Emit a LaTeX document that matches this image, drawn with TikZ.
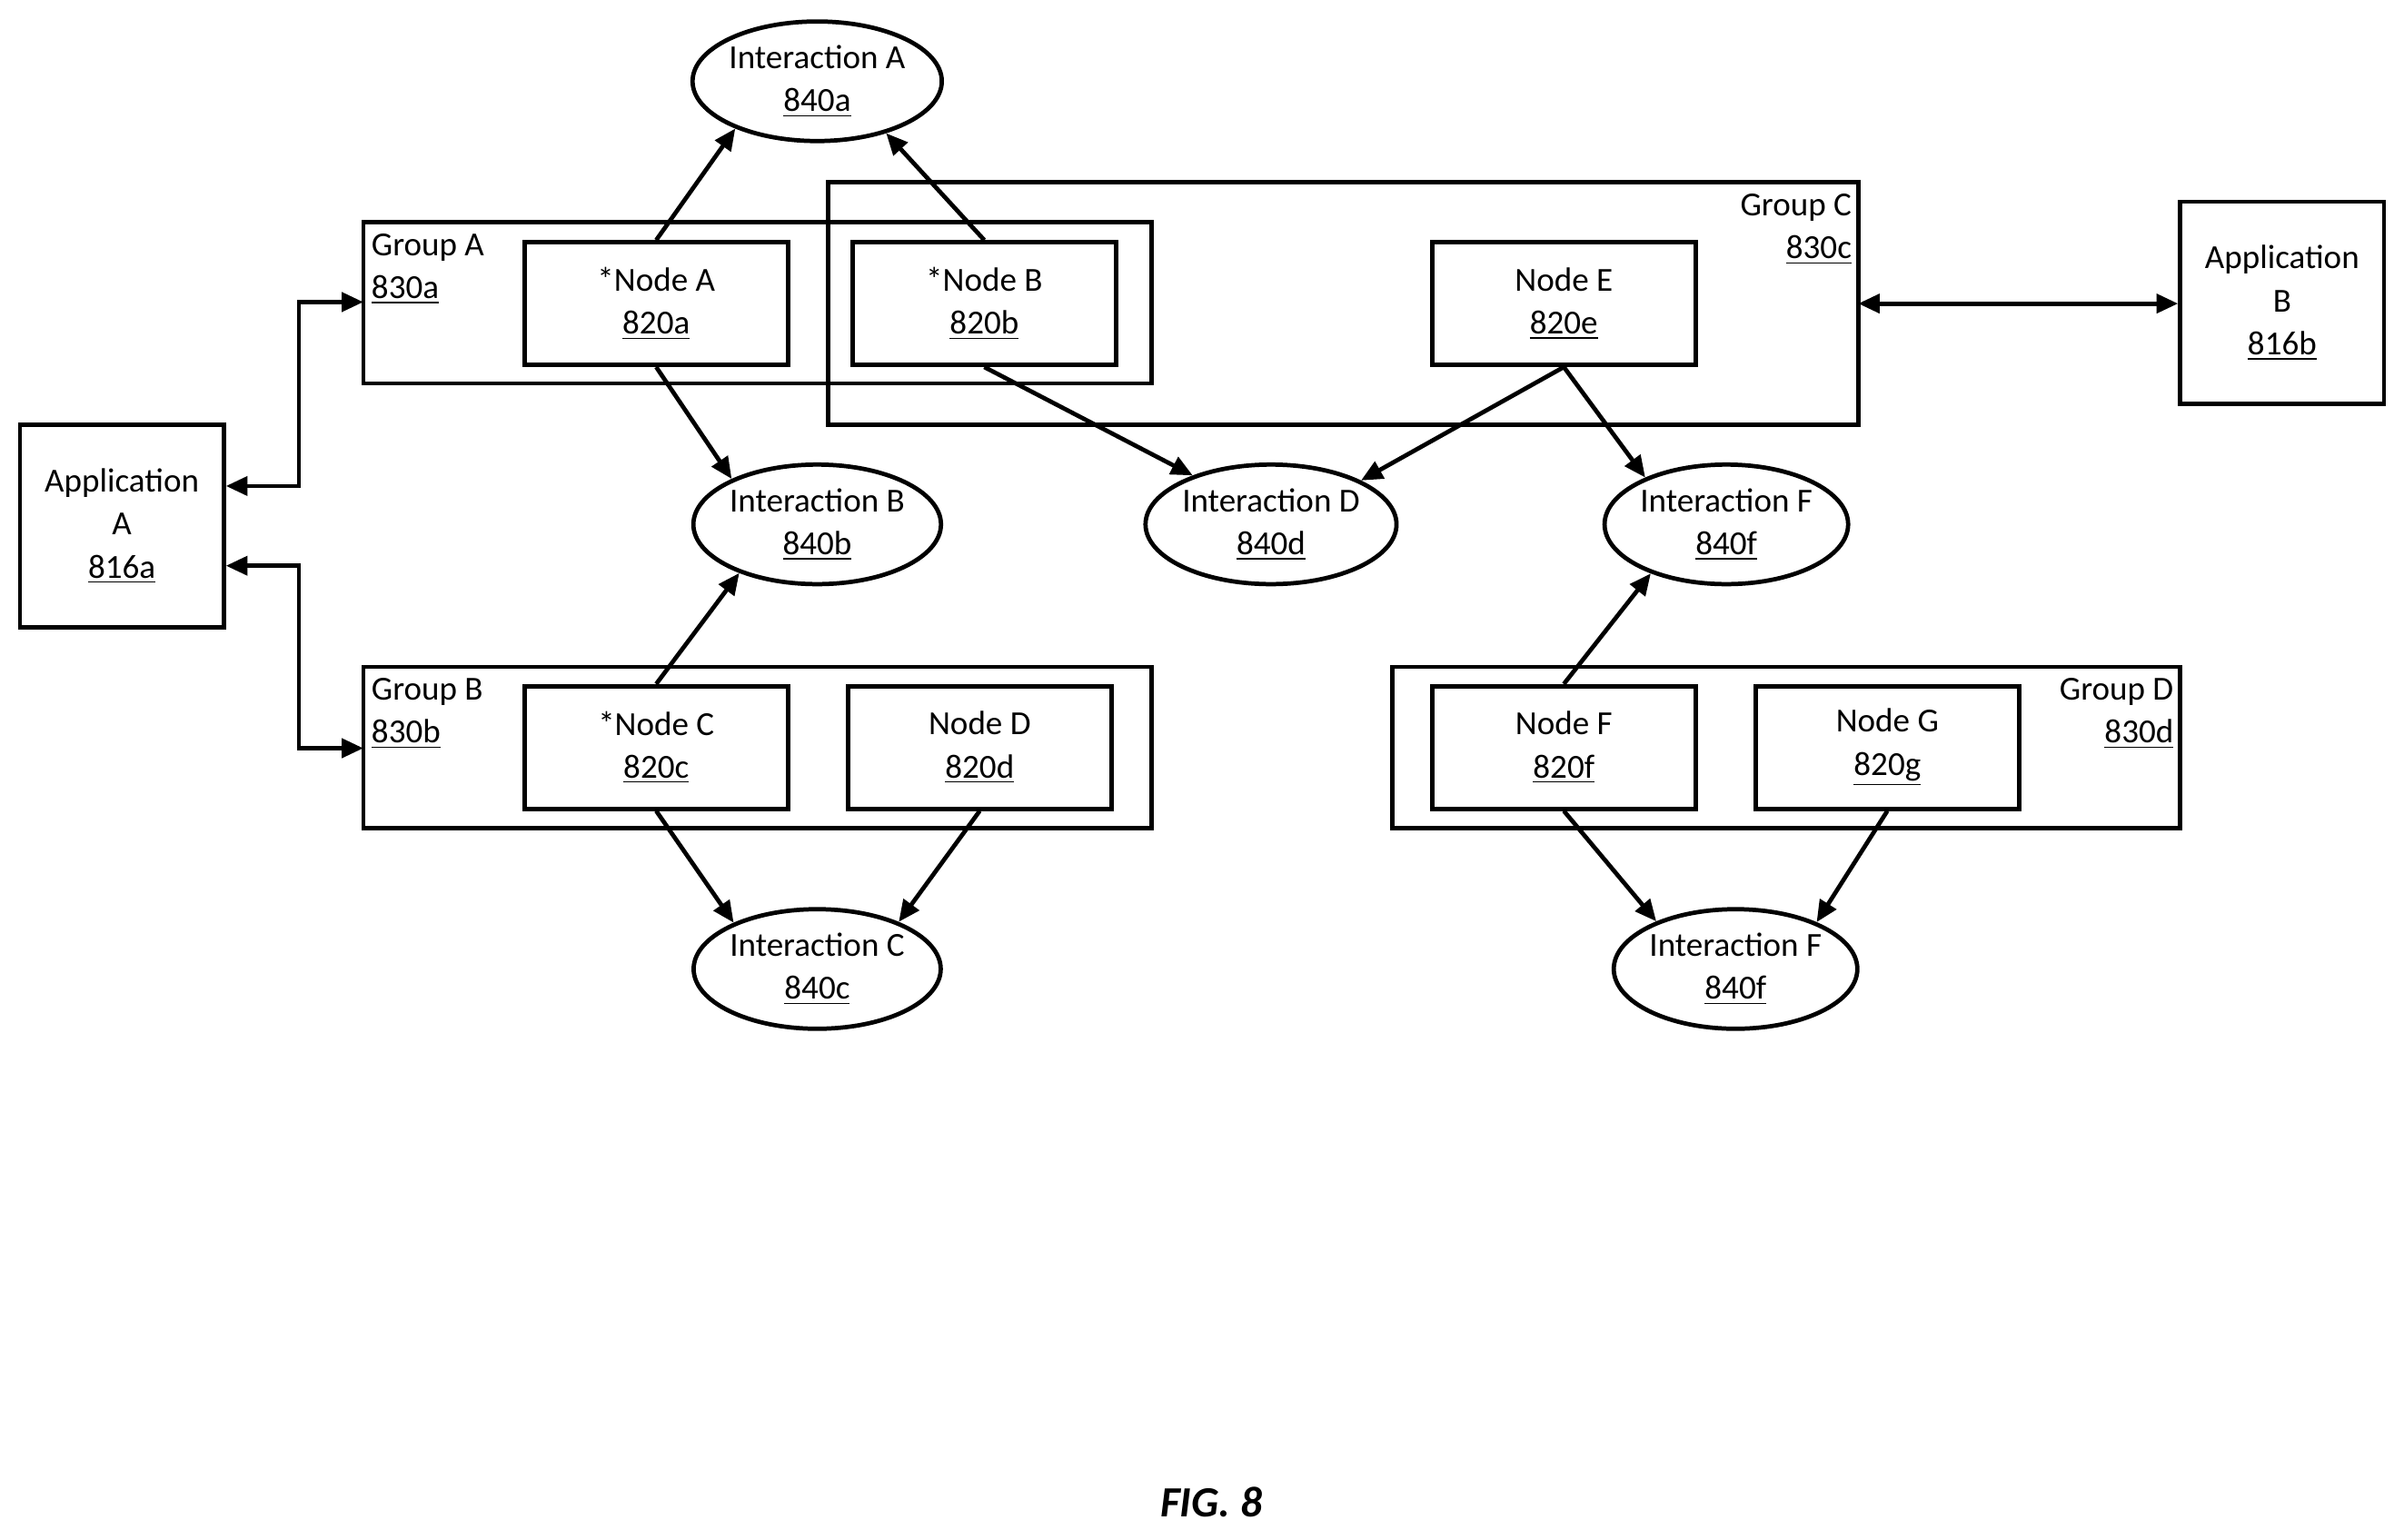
\documentclass[tikz,border=0pt]{standalone}
\usepackage{fontspec}
\setmainfont{Carlito}
\usetikzlibrary{arrows.meta,shapes.geometric}
\begin{document}
\begin{tikzpicture}[x=0.02cm,y=-0.02cm,
  every node/.style={font=\fontsize{12.5}{16}\selectfont},
  box/.style={draw,line width=1.6pt,align=center,inner sep=0pt},
  nd/.style={box,minimum width=3.44cm,minimum height=1.6cm},
  app/.style={box,minimum width=2.66cm,minimum height=2.64cm},
  ell/.style={draw,line width=1.6pt,ellipse,align=center,minimum width=3.16cm,minimum height=1.56cm,inner sep=0pt},
  grp/.style={draw,line width=1.6pt},
  lbl/.style={align=left,inner sep=0pt},
  arr/.style={line width=1.6pt,-{Triangle[length=8pt,width=7pt]}},
  darr/.style={line width=1.6pt,{Triangle[length=8pt,width=7pt]}-{Triangle[length=8pt,width=7pt]}}]
\useasboundingbox (0,0) rectangle (1568,1004);
% groups
\draw[grp] (237,145) rectangle (751,250);
\draw[grp] (540,119) rectangle (1212,277);
\draw[grp] (237,435) rectangle (751,540);
\draw[grp] (908,435) rectangle (1422,540);
\node[lbl,anchor=north west] (ga) at (242,152) {Group A\\\underline{830a}};
\node[lbl,anchor=north west] (gb) at (242,442) {Group B\\\underline{830b}};
\node[lbl,anchor=north east,align=right] (gc) at (1208,126) {Group C\\\underline{830c}};
\node[lbl,anchor=north east,align=right] (gd) at (1418,442) {Group D\\\underline{830d}};
\coordinate (gaw) at (237,197);
\coordinate (gbw) at (237,488);
\coordinate (gce) at (1212,198);
% apps
\node[app] (aa) at (79.5,343) {Application\\A\\\underline{816a}};
\node[app] (ab) at (1488.5,197.5) {Application\\B\\\underline{816b}};
% nodes
\node[nd] (na) at (428,198) {*Node A\\\underline{820a}};
\node[nd] (nb) at (642,198) {*Node B\\\underline{820b}};
\node[nd] (ne) at (1020,198) {Node E\\\underline{820e}};
\node[nd] (nc) at (428,487.5) {*Node C\\\underline{820c}};
\node[nd] (ndd) at (639,487.5) {Node D\\\underline{820d}};
\node[nd] (nf) at (1020,487.5) {Node F\\\underline{820f}};
\node[nd] (ng) at (1231,487.5) {Node G\\\underline{820g}};
% ellipses
\node[ell] (ia) at (533,53) {Interaction A\\\underline{840a}};
\node[ell] (ib) at (533,342) {Interaction B\\\underline{840b}};
\node[ell] (id) at (829,342) {Interaction D\\\underline{840d}};
\node[ell] (if) at (1126,342) {Interaction F\\\underline{840f}};
\node[ell] (ic) at (533,632) {Interaction C\\\underline{840c}};
\node[ell] (if2) at (1132,632) {Interaction F\\\underline{840f}};
% arrows
\draw[arr] (na.north) -- (ia.210);
\draw[arr] (nb.north) -- (ia.-37);
\draw[arr] (na.south) -- (ib.152);
\draw[arr] (nc.north) -- (ib.212);
\draw[arr] (nb.south) -- (id.148);
\draw[arr] (ne.south) -- (id.26);
\draw[arr] (ne.south) -- (if.150);
\draw[arr] (nf.north) -- (if.213);
\draw[arr] (nc.south) -- (ic.151);
\draw[arr] (ndd.south) -- (ic.30);
\draw[arr] (nf.south) -- (if2.149);
\draw[arr] (ng.south) -- (if2.30);
\draw[darr] (aa.east |- 0,317) -- (195,317) -- (195,197) -- (gaw);
\draw[darr] (aa.east |- 0,369) -- (195,369) -- (195,488) -- (gbw);
\draw[darr] (gce) -- (ab.west |- gce);
\node[font=\fontsize{16}{19}\selectfont\bfseries\itshape] (fig) at (790,980) {FIG. 8};
\end{tikzpicture}
\end{document}
